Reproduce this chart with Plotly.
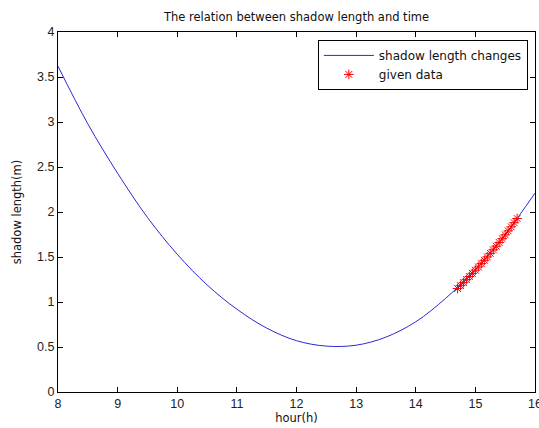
import plotly.graph_objects as go

# fitted curve
curve_hours = [8, 8.5, 9, 9.5, 10, 10.5, 11, 11.5, 12, 12.5, 13, 13.5, 14, 14.5, 15, 15.5, 16]
curve_len = [3.62, 2.98, 2.43, 1.94, 1.53, 1.19, 0.92, 0.71, 0.57, 0.51, 0.52, 0.61, 0.78, 1.04, 1.36, 1.75, 2.21]

# given data
data_hours = [14.70, 14.75, 14.80, 14.85, 14.90, 14.95, 15.00, 15.05, 15.10, 15.15, 15.20,
              15.25, 15.30, 15.35, 15.40, 15.45, 15.50, 15.55, 15.60, 15.65, 15.70]
data_len = [1.1496, 1.1822, 1.2153, 1.2491, 1.2832, 1.3180, 1.3534, 1.3894, 1.4262, 1.4634, 1.5015,
            1.5402, 1.5799, 1.6201, 1.6613, 1.7033, 1.7462, 1.7901, 1.8350, 1.8809, 1.9279]

x_ticks = [8, 9, 10, 11, 12, 13, 14, 15, 16]
y_ticks = [0, 0.5, 1, 1.5, 2, 2.5, 3, 3.5, 4]

TXT = "DejaVu Sans, Liberation Sans, Arial"
TICK = "Liberation Sans, Arial"

fig = go.Figure()
fig.add_trace(go.Scatter(x=curve_hours, y=curve_len, mode="lines", name="shadow length changes",
                         line=dict(color="#2a2ad0", width=1, shape="spline", smoothing=1)))
fig.add_trace(go.Scatter(x=data_hours, y=data_len, mode="markers", name="given data",
                         marker=dict(symbol="asterisk-open", size=8, color="red",
                                     line=dict(color="red", width=1))))

axis_common = dict(showgrid=False, zeroline=False, showline=True, linecolor="black", linewidth=1,
                   mirror="ticks", ticks="inside", ticklen=5, tickcolor="black",
                   ticklabeloverflow="allow",
                   tickfont=dict(family=TICK, size=12.5, color="#222"), automargin=False)

fig.update_layout(
    width=539, height=428,
    paper_bgcolor="white", plot_bgcolor="white",
    margin=dict(l=58, r=4, t=32, b=36),
    title=dict(text="The relation between shadow length and time", x=0.5, xref="paper", xanchor="center",
               y=1 - 17 / 428, yref="container", yanchor="middle",
               font=dict(family=TXT, size=11.5, color="#111")),
    xaxis=dict(range=[8, 16], tickvals=x_ticks, ticktext=[str(v) for v in x_ticks],
               title=dict(text="hour(h)", standoff=0,
                          font=dict(family=TXT, size=11.5, color="#111")),
               **axis_common),
    yaxis=dict(range=[0, 4], tickvals=y_ticks, ticktext=[f"{v:g}" for v in y_ticks],
               title=dict(text="shadow length(m)", standoff=13,
                          font=dict(family=TXT, size=11.5, color="#111")),
               **axis_common),
    legend=dict(x=0.985, y=0.978, xanchor="right", yanchor="top", bordercolor="black", borderwidth=1,
                bgcolor="white", font=dict(family=TXT, size=12, color="#111"),
                tracegroupgap=0, itemwidth=50),
    showlegend=True,
)

fig.write_html("out.html", config={"displayModeBar": False},
               post_script="document.body.style.margin='0';document.body.style.overflow='hidden';")
